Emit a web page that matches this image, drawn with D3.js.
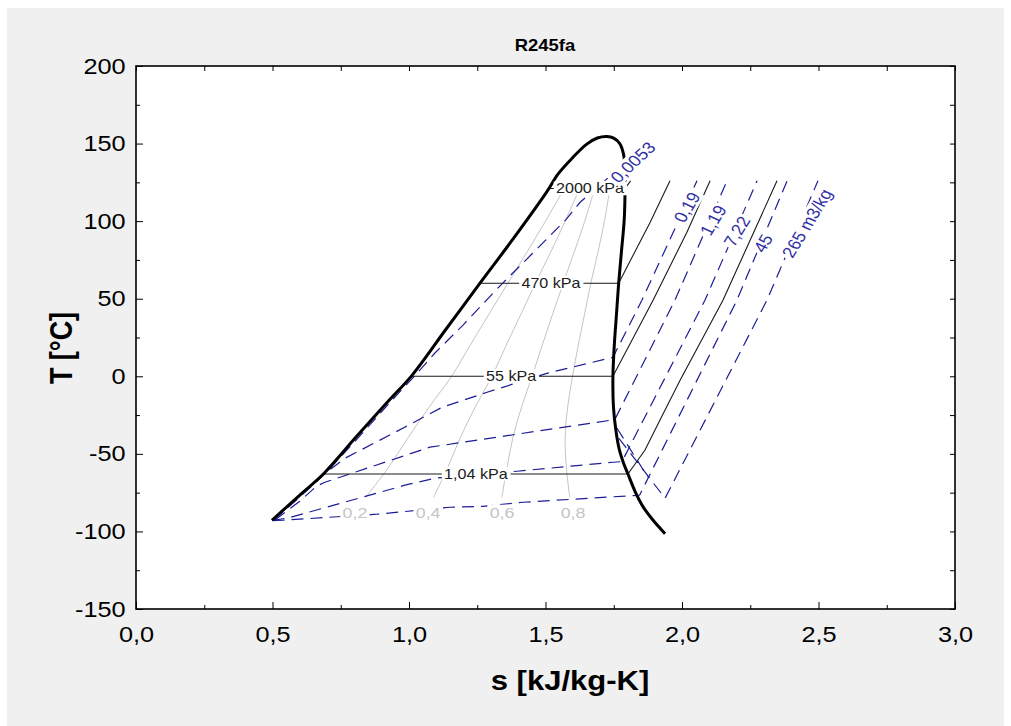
<!DOCTYPE html>
<html>
<head>
<style>
  body { margin: 0; background: #fff; }
  svg { display: block; font-family: "Liberation Sans", Arial, Helvetica, sans-serif; }
</style>
</head>
<body>
<script src="https://d3js.org/d3.v7.min.js"></script>
<script>
// axis ticks
const xTickValues = [0, 0.5, 1, 1.5, 2, 2.5, 3];
const xMinorTicks = [0.25, 0.75, 1.25, 1.75, 2.25, 2.75];
const yTickValues = [-150, -100, -50, 0, 50, 100, 150, 200];
const yMinorTicks = [-125, -75, -25, 25, 75, 125, 175];

// saturation dome, [s kJ/kg-K, T C]
const liquidLine = [[0.498,-92.8],[0.591,-78],[0.689,-62.5],[0.802,-40],[0.927,-15.5],[1.011,0.6],[1.134,30],[1.26,60],[1.382,88.7],[1.504,118.7],[1.547,130.6],[1.60,141],[1.65,149.5],[1.69,153.6],[1.725,154.6]];
const vaporLine = [[1.725,154.6],[1.750,153.5],[1.772,150],[1.786,143],[1.791,132],[1.791,115],[1.788,100],[1.778,80],[1.768,60],[1.760,40],[1.752,20],[1.747,0],[1.749,-20],[1.758,-35],[1.770,-47],[1.786,-56],[1.802,-63],[1.830,-75],[1.857,-84],[1.895,-93],[1.938,-101.5]];

// quality lines
const qualityLabels = ['0,2', '0,4', '0,6', '0,8'];
const q02 = [[0.841,-78],[0.920,-60],[0.995,-40],[1.073,-20],[1.156,0],[1.224,20],[1.293,40],[1.362,60],[1.432,80],[1.500,100],[1.565,120]];
const q04 = [[1.090,-78],[1.139,-60],[1.187,-40],[1.242,-20],[1.304,0],[1.356,20],[1.410,40],[1.463,60],[1.519,80],[1.572,100],[1.622,120]];
const q06 = [[1.340,-78],[1.358,-60],[1.380,-40],[1.412,-20],[1.451,0],[1.488,20],[1.526,40],[1.565,60],[1.605,80],[1.644,100],[1.678,120]];
const q08 = [[1.589,-78],[1.577,-60],[1.572,-40],[1.581,-20],[1.599,0],[1.620,20],[1.643,40],[1.666,60],[1.692,80],[1.716,100],[1.735,120]];
const qualityLabelS = [0.802, 1.070, 1.341, 1.601];
const qualityLabelT = [-87.6, -87.6, -87.6, -87.6];

// isobars
const isobarLabels = ['2000 kPa', '470 kPa', '55 kPa', '1,04 kPa'];
const isobar2000 = [[1.512,121],[1.791,121],[1.812,126]];
const isobar470 = [[1.26,60],[1.768,60],[1.883,99.2],[1.956,126]];
const isobar55 = [[1.008,0],[1.747,0],[1.894,49],[2.018,92.8],[2.103,126]];
const isobar104 = [[0.687,-63],[1.802,-63],[1.864,-47.7],[1.919,-28.4],[1.993,-2.6],[2.150,49],[2.348,126]];
const isobarLabelS = [1.663, 1.520, 1.374, 1.245];
const isobarLabelT = [121, 60, 0, -63];

// isochores, m3/kg
const isochoreLabels = ['0,0053', '0,19', '1,19', '7,22', '45', '265 m3/kg'];
const iso0053 = [[0.50,-92.5],[0.60,-77.5],[0.697,-62],[0.812,-40],[0.94,-15],[1.03,2],[1.095,15],[1.198,33],[1.326,57],[1.451,79],[1.575,101],[1.626,112],[1.69,122],[1.75,131]];
const iso019 = [[0.505,-92.5],[0.60,-77.8],[0.70,-61.5],[0.766,-52.8],[0.95,-36],[1.121,-20],[1.286,-10.3],[1.505,1.9],[1.747,12.2],[1.853,49],[2.055,126]];
const iso119 = [[0.51,-92.5],[0.60,-80.5],[0.66,-71],[0.692,-68.3],[1.077,-45.7],[1.40,-37.2],[1.736,-28.4],[1.755,-27.5],[1.974,49],[2.165,126]];
const iso722 = [[0.50,-92.8],[0.553,-91.5],[0.828,-78],[0.985,-70.2],[1.095,-65.7],[1.396,-61.2],[1.747,-55.4],[1.78,-55],[2.084,49],[2.275,126]];
const iso45 = [[0.50,-93],[0.538,-92.8],[0.883,-88.9],[1.150,-84.4],[1.271,-83.8],[1.418,-81.2],[1.839,-76.7],[1.845,-76.5],[2.201,49],[2.385,126]];
const iso265 = [[1.769,-40],[1.938,-78.6],[2.311,49],[2.498,126]];
const isoStray = [[1.762,-33.5],[1.875,-65]];
const isochoreLabelS = [1.82, 2.018, 2.114, 2.201, 2.297, 2.458];
const isochoreLabelT = [138, 108.9, 100.5, 93.4, 85.7, 98.6];

const width = 1011, height = 726;
const plot = { left: 136, right: 955, top: 66, bottom: 609 };
const sx = 1.15;  // the screenshot text is a bit wide

const x = d3.scaleLinear().domain([0, 3]).range([plot.left, plot.right]);
const y = d3.scaleLinear().domain([-150, 200]).range([plot.bottom, plot.top]);

const svg = d3.select('body').append('svg')
  .attr('width', width)
  .attr('height', height);

svg.append('rect').attr('width', width).attr('height', height).attr('fill', '#fff');
svg.append('rect')
  .attr('x', 7).attr('y', 8)
  .attr('width', 997).attr('height', 718)
  .attr('fill', '#f0f0f0');

function addText(parent, px, py, str, size, opts = {}) {
  return parent.append('text')
    .attr('transform', `translate(${px},${py}) scale(${sx},1)` + (opts.rotate ? ` rotate(${opts.rotate})` : ''))
    .attr('text-anchor', opts.anchor || 'middle')
    .attr('font-size', size)
    .attr('font-weight', opts.bold ? 'bold' : null)
    .attr('fill', opts.fill || '#000')
    .attr('dy', opts.dy || null)
    .text(str);
}

// label with white box behind it
function boxLabel(parent, px, py, str, size, color, angle) {
  const g = parent.append('g')
    .attr('transform', `translate(${px},${py}) scale(${sx},1) rotate(${angle || 0})`);
  const r = g.append('rect').attr('fill', '#fff');
  const t = g.append('text')
    .attr('text-anchor', 'middle')
    .attr('dy', '0.35em')
    .attr('font-size', size)
    .attr('fill', color)
    .text(str);
  const b = t.node().getBBox();
  r.attr('x', b.x - 2).attr('y', b.y + 1).attr('width', b.width + 4).attr('height', b.height - 2);
}

svg.append('rect')
  .attr('x', plot.left).attr('y', plot.top)
  .attr('width', plot.right - plot.left).attr('height', plot.bottom - plot.top)
  .attr('fill', '#fff');

addText(svg, 545, 51, 'R245fa', 16, { bold: true });

svg.append('clipPath').attr('id', 'clip')
  .append('rect')
  .attr('x', plot.left).attr('y', plot.top)
  .attr('width', plot.right - plot.left).attr('height', plot.bottom - plot.top);

const g = svg.append('g').attr('clip-path', 'url(#clip)');

const line = d3.line().x(d => x(d[0])).y(d => y(d[1]));
const smooth = d3.line().x(d => x(d[0])).y(d => y(d[1])).curve(d3.curveCatmullRom.alpha(0.5));

// quality lines
g.selectAll('.quality')
  .data([q02, q04, q06, q08])
  .join('path')
  .attr('class', 'quality')
  .attr('d', smooth)
  .attr('fill', 'none')
  .attr('stroke', '#c4c4c4')
  .attr('stroke-width', 1);

// isochores
g.selectAll('.isochore')
  .data([iso0053, iso019, iso119, iso722, iso45, iso265, isoStray])
  .join('path')
  .attr('class', 'isochore')
  .attr('d', line)
  .attr('fill', 'none')
  .attr('stroke', '#1c1c96')
  .attr('stroke-width', 1.2)
  .attr('stroke-dasharray', '12,7');

// isobars
g.selectAll('.isobar')
  .data([isobar2000, isobar470, isobar55, isobar104])
  .join('path')
  .attr('class', 'isobar')
  .attr('d', line)
  .attr('fill', 'none')
  .attr('stroke', '#1a1a1a')
  .attr('stroke-width', 1.1);

// saturation dome
g.append('path')
  .datum(liquidLine.concat(vaporLine.slice(1)))
  .attr('d', smooth)
  .attr('fill', 'none')
  .attr('stroke', '#000')
  .attr('stroke-width', 3)
  .attr('stroke-linejoin', 'round');

qualityLabels.forEach((q, i) => {
  boxLabel(g, x(qualityLabelS[i]), y(qualityLabelT[i]), q, 15.5, '#c4c4c4', 0);
});

isobarLabels.forEach((p, i) => {
  boxLabel(g, x(isobarLabelS[i]), y(isobarLabelT[i]), p, 14, '#202020', 0);
});

isochoreLabels.forEach((v, i) => {
  boxLabel(g, x(isochoreLabelS[i]), y(isochoreLabelT[i]), v, 16, '#3030a4', i === 0 ? -47 : -62);
});

// frame
svg.append('rect')
  .attr('x', plot.left).attr('y', plot.top)
  .attr('width', plot.right - plot.left).attr('height', plot.bottom - plot.top)
  .attr('fill', 'none')
  .attr('stroke', '#000')
  .attr('stroke-width', 1.6);

// axes, ticks pointing inward
const gx = svg.append('g')
  .attr('transform', `translate(0,${plot.bottom})`)
  .call(d3.axisBottom(x).tickValues(xTickValues).tickSize(-7).tickPadding(17)
    .tickFormat(d => d.toFixed(1).replace('.', ',')));
svg.append('g')
  .attr('transform', `translate(0,${plot.bottom})`)
  .call(d3.axisBottom(x).tickValues(xMinorTicks).tickSize(-4).tickFormat(''));
svg.append('g')
  .attr('transform', `translate(0,${plot.top})`)
  .call(d3.axisTop(x).tickValues(xTickValues.concat(xMinorTicks)).tickSize(-5).tickFormat(''));

const gy = svg.append('g')
  .attr('transform', `translate(${plot.left},0)`)
  .call(d3.axisLeft(y).tickValues(yTickValues).tickSize(-7).tickPadding(9)
    .tickFormat(d => String(d)));
svg.append('g')
  .attr('transform', `translate(${plot.left},0)`)
  .call(d3.axisLeft(y).tickValues(yMinorTicks).tickSize(-4).tickFormat(''));
svg.append('g')
  .attr('transform', `translate(${plot.right},0)`)
  .call(d3.axisRight(y).tickValues(yTickValues.concat(yMinorTicks)).tickSize(-5).tickFormat(''));

svg.selectAll('.domain').remove();
svg.selectAll('.tick line').attr('stroke', '#000');

[gx, gy].forEach(a => {
  a.attr('font-size', 22).attr('font-family', null);
  a.selectAll('text').attr('fill', '#000').attr('transform', `scale(${sx},1)`);
});

// axis titles
addText(svg, 570, 690, 's [kJ/kg-K]', 27, { bold: true });
addText(svg, 72, 348, 'T [°C]', 27, { bold: true, rotate: -90 });
</script>
</body>
</html>
